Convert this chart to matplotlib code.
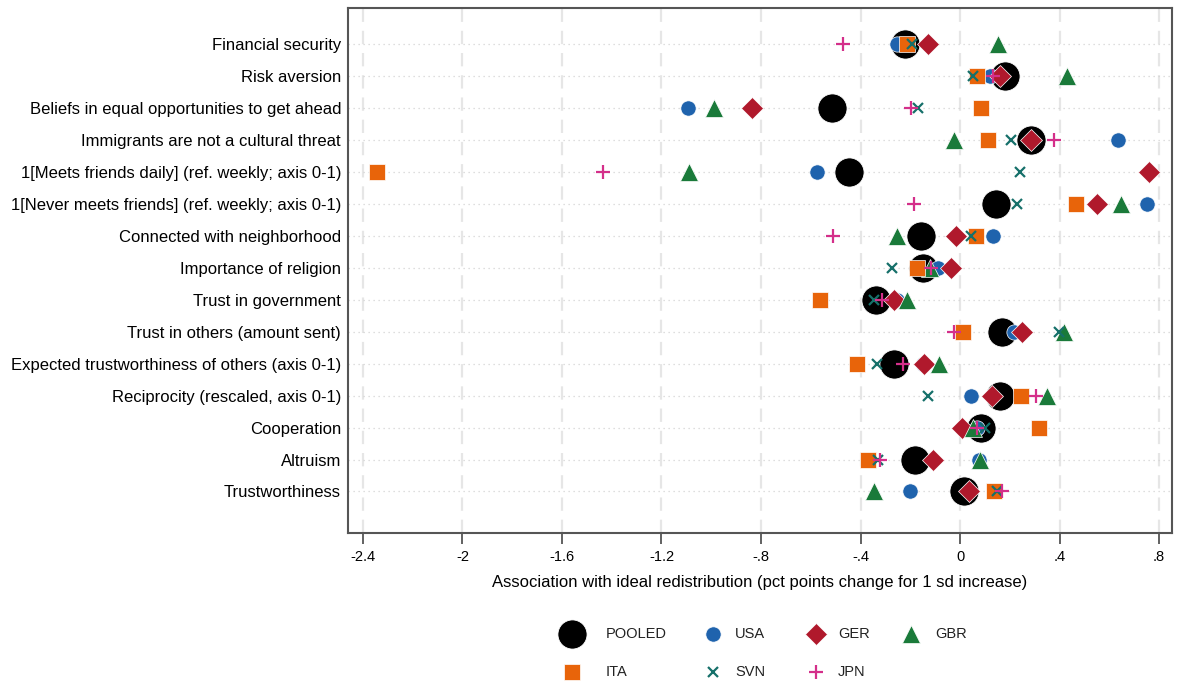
import matplotlib
matplotlib.use("Agg")
import matplotlib.pyplot as plt

plt.rcParams['font.family'] = ['Liberation Sans', 'DejaVu Sans']

categories = [
    "Financial security",
    "Risk aversion",
    "Beliefs in equal opportunities to get ahead",
    "Immigrants are not a cultural threat",
    "1[Meets friends daily] (ref. weekly; axis 0-1)",
    "1[Never meets friends] (ref. weekly; axis 0-1)",
    "Connected with neighborhood",
    "Importance of religion",
    "Trust in government",
    "Trust in others (amount sent)",
    "Expected trustworthiness of others (axis 0-1)",
    "Reciprocity (rescaled, axis 0-1)",
    "Cooperation",
    "Altruism",
    "Trustworthiness",
]

pooled = [-0.221, 0.181, -0.515, 0.285, -0.446, 0.145, -0.157, -0.149, -0.338, 0.169, -0.265, 0.161, 0.084, -0.181, 0.016]
usa    = [-0.253, 0.120, -1.093, 0.635, -0.575, 0.752, 0.133, -0.088, -0.253, 0.217, -0.148, 0.044, 0.070, 0.076, -0.201]
ger    = [-0.129, 0.161, -0.836, 0.285, 0.760, 0.550, -0.016, -0.036, -0.265, 0.249, -0.145, 0.129, 0.008, -0.109, 0.036]
gbr    = [0.153, 0.430, -0.989, -0.024, -1.089, 0.647, -0.253, -0.121, -0.213, 0.418, -0.084, 0.350, 0.052, 0.080, -0.346]
ita    = [-0.213, 0.068, 0.084, 0.113, -2.344, 0.466, 0.064, -0.173, -0.563, 0.012, -0.414, 0.245, 0.318, -0.370, 0.137]
svn    = [-0.193, 0.052, -0.169, 0.205, 0.241, 0.229, 0.044, -0.273, -0.346, 0.398, -0.334, -0.129, 0.100, -0.330, 0.149]
jpn    = [-0.470, 0.133, -0.197, 0.378, -1.435, -0.185, -0.511, -0.117, -0.315, -0.024, -0.229, 0.305, 0.068, -0.322, 0.169]

xticks = [-2.4, -2.0, -1.6, -1.2, -0.8, -0.4, 0.0, 0.4, 0.8]
xticklabels = ["-2.4", "-2", "-1.6", "-1.2", "-.8", "-.4", "0", ".4", ".8"]

series = [
    ("POOLED", pooled, dict(marker='o', color='black', ms=21, mec='white', mew=0.6)),
    ("USA", usa, dict(marker='o', color='#1f63ad', ms=11, mec='white', mew=0.5)),
    ("GER", ger, dict(marker='D', color='#b0192c', ms=11.5, mec='white', mew=0.5)),
    ("GBR", gbr, dict(marker='^', color='#1a7a3a', ms=13, mec='white', mew=0.5)),
    ("ITA", ita, dict(marker='s', color='#e8640a', ms=11.5, mec='white', mew=0.5)),
    ("SVN", svn, dict(marker='x', color='#16706a', ms=7.5, mew=1.6)),
    ("JPN", jpn, dict(marker='+', color='#d42f8a', ms=10.5, mew=1.6)),
]
styles = {name: st for name, _, st in series}

W, H = 1177, 683
fig = plt.figure(figsize=(W / 100, H / 100), dpi=100)
ax = fig.add_axes([348 / W, 1 - 533 / H, (1172 - 348) / W, (533 - 8) / H])

ypos = list(range(1, len(categories) + 1))

# grid: dashed verticals at ticks, dotted horizontals at each row
for xt in xticks:
    ax.axvline(xt, color='#e6e6e6', lw=1.6, ls=(0, (6, 4)), zorder=0)
for y in ypos:
    ax.axhline(y, color='#d4d4d4', lw=0.9, ls=(0, (1, 3)), zorder=0)

for i, (name, vals, style) in enumerate(series):
    ax.plot(vals, ypos, ls='none', zorder=2 + i, label=name, **style)

ax.set_xlim(-2.46, 0.852)
ax.set_ylim(len(categories) + 1.3, 1 - 1.13)
ax.set_xticks(xticks)
ax.set_xticklabels(xticklabels, fontsize=10.5)
ax.set_yticks(ypos)
ax.set_yticklabels(categories, fontsize=12)
ax.tick_params(axis='y', length=0, pad=5)
ax.tick_params(axis='x', length=8, width=1.3, color='#555555', pad=4, direction='out')
for sp in ax.spines.values():
    sp.set_color('#555555')
    sp.set_linewidth(1.5)
ax.set_xlabel("Association with ideal redistribution (pct points change for 1 sd increase)",
              fontsize=12, labelpad=8)

# legend laid out in pixel coordinates below the plot
lax = fig.add_axes([0, 0, 1, 1], facecolor='none')
lax.set_xlim(0, W)
lax.set_ylim(H, 0)
lax.axis('off')
legend_slots = [
    ("POOLED", 572, 634, 606),
    ("USA", 713, 634, 735),
    ("GER", 816, 634, 838),
    ("GBR", 911, 634, 935),
    ("ITA", 572, 672, 606),
    ("SVN", 713, 672, 735),
    ("JPN", 816, 672, 838),
]
for name, mx, my, tx in legend_slots:
    lax.plot([mx], [my], ls='none', **styles[name])
    lax.text(tx, my, name, fontsize=10.5, va='center', ha='left', color='#222222')

fig.savefig("out.png", dpi=100, facecolor='white')
